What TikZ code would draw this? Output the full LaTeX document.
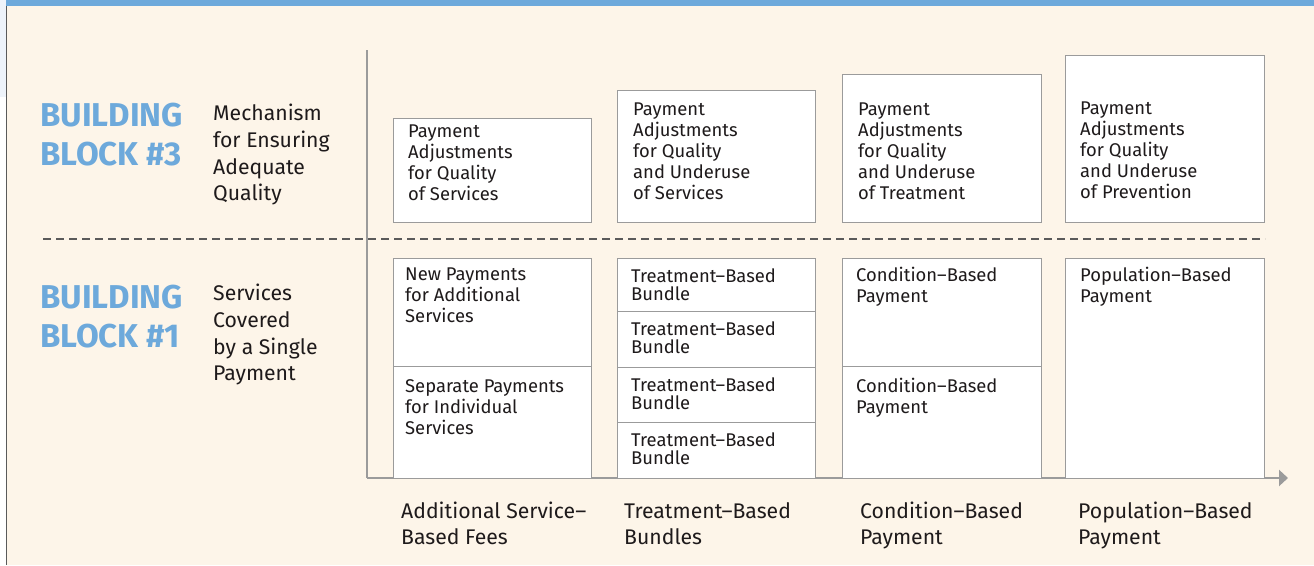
\documentclass[tikz,border=0pt]{standalone}
\usepackage{fontspec}
\setmainfont{Fira Sans}
\usetikzlibrary{positioning,arrows.meta}
\definecolor{bbblau}{HTML}{6DA9DB}
\definecolor{hellblau}{HTML}{EEF3FA}
\definecolor{creme}{HTML}{FDF5E9}
\definecolor{rahmen}{HTML}{9B9B9B}
\definecolor{strich}{HTML}{5A5A5A}
\definecolor{schrift}{HTML}{1E1A1B}
\tikzset{
  feld/.style={draw=rahmen, fill=white, line width=1.2pt, anchor=north west, inner sep=0pt},
  feldtext/.style={anchor=north west, inner sep=0pt, align=left, text=schrift, font=\fontsize{18.4}{21}\selectfont},
  bundletext/.style={feldtext, font=\fontsize{18.4}{18.7}\selectfont},
  seitentext/.style={anchor=north west, inner sep=0pt, align=left, text=schrift, font=\fontsize{21.2}{26.7}\selectfont},
  blocktitel/.style={anchor=north west, inner sep=0pt, align=left, text=bbblau, font=\fontsize{33}{39}\selectfont\bfseries},
  achsentext/.style={anchor=north west, inner sep=0pt, align=left, text=schrift, font=\fontsize{21.2}{26}\selectfont},
  achse/.style={draw=rahmen, line width=2.3pt}
}
\begin{document}
\begin{tikzpicture}[x=1pt, y=-1pt]
    \useasboundingbox (0,0) rectangle (1314,565);
    % Hintergrund
    \fill[white] (0,0) rectangle (1314,565);
    \fill[hellblau] (0,0) rectangle (6,97);
    \fill[creme] (7,6) rectangle (1314,565);
    \fill[bbblau] (6,0) rectangle (1314,6);
    \draw[strich, line width=1.4pt] (6.5,6) -- (6.5,565);
    % Achsen
    \draw[achse] (367,50) -- (367,478);
    \draw[achse, -{Triangle[length=9pt, width=16pt]}] (367,478) -- (1288,478);
    % Trennlinie
    \draw[strich, line width=2pt, dash pattern=on 8pt off 5pt] (43,239) -- (1265,239);
    % Beschriftung links
    \node[blocktitel] (bb3) at (40,103) {BUILDING\\BLOCK \#3};
    \node[seitentext] (bb3t) at (213,104) {Mechanism\\for Ensuring\\Adequate\\Quality};
    \node[blocktitel] (bb1) at (40,285) {BUILDING\\BLOCK \#1};
    \node[seitentext] (bb1t) at (213,284) {Services\\Covered\\by a Single\\Payment};
    % Building Block 3: Qualitaet
    \node[feld, minimum width=198pt, minimum height=104pt] (q1) at (393,118) {};
    \node[feld, minimum width=198pt, minimum height=132pt] (q2) at (617,90) {};
    \node[feld, minimum width=199pt, minimum height=148pt] (q3) at (842,74) {};
    \node[feld, minimum width=199pt, minimum height=167pt] (q4) at (1065,55) {};
    \node[feldtext] (q1t) at (408,125) {Payment\\Adjustments\\for Quality\\of Services};
    \node[feldtext] (q2t) at (633,103) {Payment\\Adjustments\\for Quality\\and Underuse\\of Services};
    \node[feldtext] (q3t) at (858,103) {Payment\\Adjustments\\for Quality\\and Underuse\\of Treatment};
    \node[feldtext] (q4t) at (1080,102) {Payment\\Adjustments\\for Quality\\and Underuse\\of Prevention};
    % Building Block 1: Leistungen
    \node[feld, minimum width=198pt, minimum height=108pt] (s1) at (393,258) {};
    \node[feld, minimum width=198pt, minimum height=112pt] (s2) at (393,366) {};
    \node[feldtext] (s1t) at (405,268) {New Payments\\for Additional\\Services};
    \node[feldtext] (s2t) at (405,379) {Separate Payments\\for Individual\\Services};
    \foreach \i/\oben/\unten in {1/258/311, 2/311/367, 3/367/422, 4/422/478} {
      \node[feld, minimum width=198pt, minimum height={\unten-\oben}] (b\i) at (617,\oben) {};
      \node[bundletext] (b\i t) at (631,{\oben+10}) {Treatment–Based\\Bundle};
    }
    \node[feld, minimum width=199pt, minimum height=108pt] (c1) at (842,258) {};
    \node[feld, minimum width=199pt, minimum height=112pt] (c2) at (842,366) {};
    \node[feldtext] (c1t) at (856,267) {Condition–Based\\Payment};
    \node[feldtext] (c2t) at (856,378) {Condition–Based\\Payment};
    \node[feld, minimum width=199pt, minimum height=220pt] (p1) at (1065,258) {};
    \node[feldtext] (p1t) at (1080,267) {Population–Based\\Payment};
    % Beschriftung Achse
    \node[achsentext] (a1) at (401,502) {Additional Service–\\Based Fees};
    \node[achsentext] (a2) at (624,502) {Treatment–Based\\Bundles};
    \node[achsentext] (a3) at (860,502) {Condition–Based\\Payment};
    \node[achsentext] (a4) at (1078,502) {Population–Based\\Payment};
\end{tikzpicture}
\end{document}
